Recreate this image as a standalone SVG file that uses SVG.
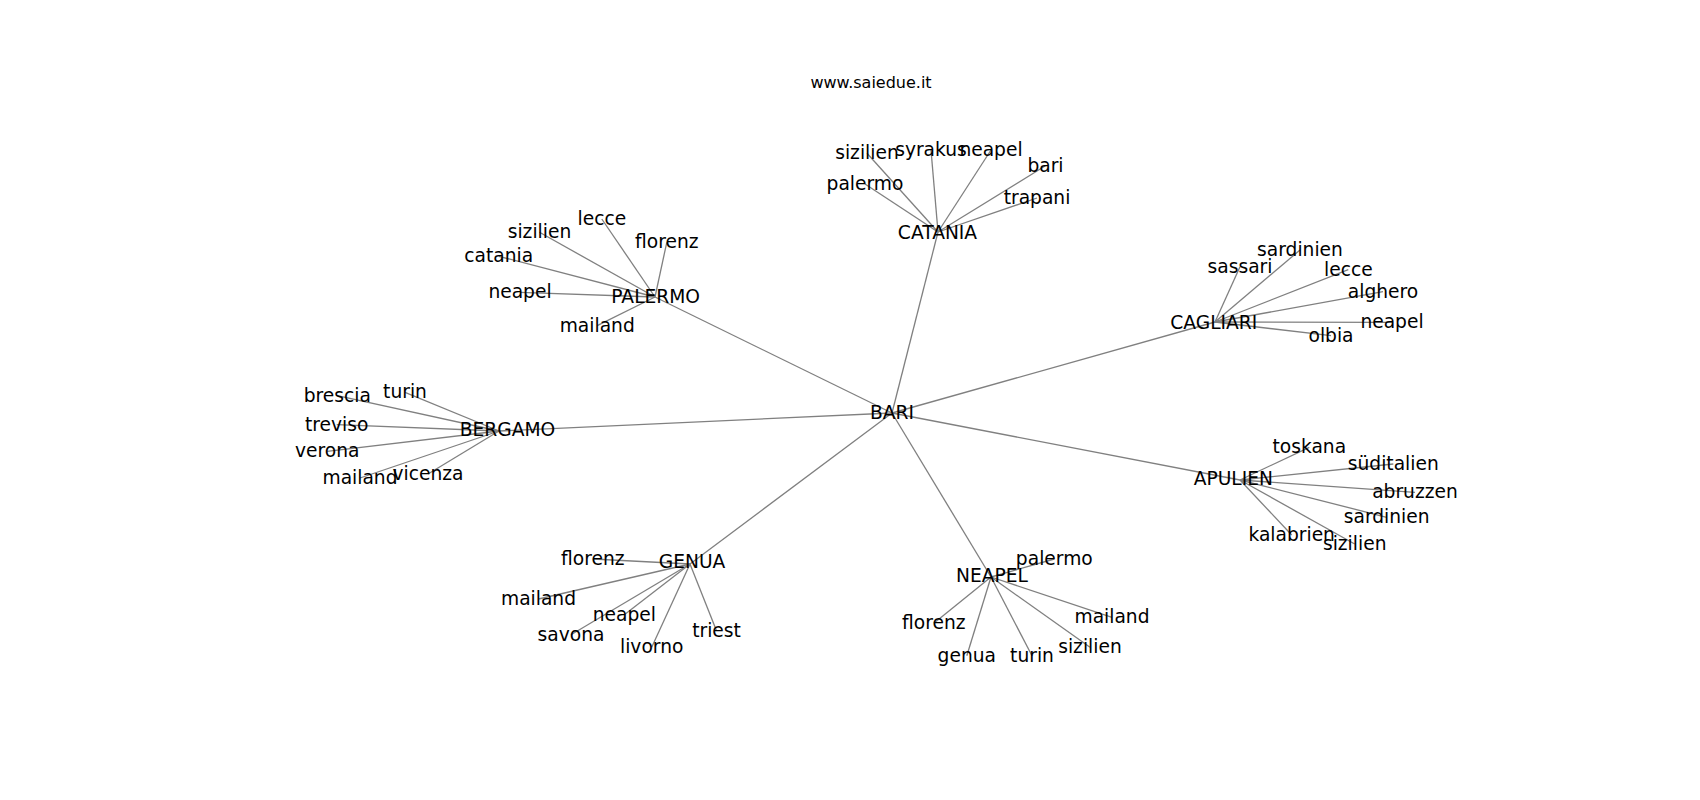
<svg xmlns="http://www.w3.org/2000/svg" width="1700" height="800" viewBox="0 0 1700 800">
<style>
  text { font-family: "DejaVu Sans", "Liberation Sans", sans-serif; fill: #000; text-anchor: middle; }
  .lbl { font-size: 18.67px; }
  .title { font-size: 16px; }
  #edges line { stroke: #808080; stroke-width: 1.3; fill: none; }
</style>
<rect x="0" y="0" width="1700" height="800" fill="#ffffff"/>
<text class="title" x="871" y="88">www.saiedue.it</text>
<g id="edges">
  <line x1="892" y1="413" x2="938" y2="232"/>
  <line x1="892" y1="413" x2="655" y2="297"/>
  <line x1="892" y1="413" x2="499" y2="431"/>
  <line x1="892" y1="413" x2="690" y2="564"/>
  <line x1="892" y1="413" x2="991" y2="577"/>
  <line x1="892" y1="413" x2="1240" y2="480"/>
  <line x1="892" y1="413" x2="1215" y2="322"/>
  <!-- CATANIA -->
  <line x1="938" y1="232" x2="867" y2="153.3"/>
  <line x1="938" y1="232" x2="931" y2="150"/>
  <line x1="938" y1="232" x2="991" y2="150"/>
  <line x1="938" y1="232" x2="1045.5" y2="165.7"/>
  <line x1="938" y1="232" x2="865" y2="184"/>
  <line x1="938" y1="232" x2="1037" y2="198"/>
  <!-- PALERMO -->
  <line x1="655" y1="297" x2="601.8" y2="219"/>
  <line x1="655" y1="297" x2="539.5" y2="232.3"/>
  <line x1="655" y1="297" x2="666.8" y2="242.3"/>
  <line x1="655" y1="297" x2="498.8" y2="256.3"/>
  <line x1="655" y1="297" x2="520" y2="292.3"/>
  <line x1="655" y1="297" x2="597.2" y2="325.7"/>
  <!-- BERGAMO -->
  <line x1="499" y1="431" x2="337.3" y2="395.7"/>
  <line x1="499" y1="431" x2="405" y2="392.3"/>
  <line x1="499" y1="431" x2="336.7" y2="424.7"/>
  <line x1="499" y1="431" x2="327.2" y2="451.3"/>
  <line x1="499" y1="431" x2="360" y2="478"/>
  <line x1="499" y1="431" x2="428" y2="474"/>
  <!-- CAGLIARI -->
  <line x1="1215" y1="322" x2="1240" y2="266.7"/>
  <line x1="1215" y1="322" x2="1300" y2="250"/>
  <line x1="1215" y1="322" x2="1348.3" y2="269.7"/>
  <line x1="1215" y1="322" x2="1383" y2="291.7"/>
  <line x1="1215" y1="322" x2="1392" y2="322.3"/>
  <line x1="1215" y1="322" x2="1331" y2="335.7"/>
  <!-- APULIEN -->
  <line x1="1240" y1="480" x2="1309.3" y2="447.3"/>
  <line x1="1240" y1="480" x2="1393.3" y2="464"/>
  <line x1="1240" y1="480" x2="1415" y2="492.3"/>
  <line x1="1240" y1="480" x2="1386.7" y2="517.3"/>
  <line x1="1240" y1="480" x2="1291.7" y2="535"/>
  <line x1="1240" y1="480" x2="1354.7" y2="544"/>
  <!-- NEAPEL -->
  <line x1="991" y1="577" x2="1054.3" y2="559"/>
  <line x1="991" y1="577" x2="933.8" y2="623.3"/>
  <line x1="991" y1="577" x2="966.8" y2="655.7"/>
  <line x1="991" y1="577" x2="1032" y2="655.7"/>
  <line x1="991" y1="577" x2="1112" y2="617.3"/>
  <line x1="991" y1="577" x2="1090" y2="647.3"/>
  <!-- GENUA -->
  <line x1="690" y1="564" x2="592.8" y2="559"/>
  <line x1="690" y1="564" x2="538.5" y2="599"/>
  <line x1="690" y1="564" x2="624.3" y2="614.7"/>
  <line x1="690" y1="564" x2="571" y2="634.7"/>
  <line x1="690" y1="564" x2="651.7" y2="647.3"/>
  <line x1="690" y1="564" x2="716.5" y2="630.7"/>
</g>
<g id="BARI"><text class="lbl" x="892" y="419">BARI</text></g>
<g id="CATANIA"><text class="lbl" x="937.5" y="239.3">CATANIA</text></g>
<g id="PALERMO"><text class="lbl" x="655.7" y="303.3">PALERMO</text></g>
<g id="BERGAMO"><text class="lbl" x="507.5" y="435.7">BERGAMO</text></g>
<g id="CAGLIARI"><text class="lbl" x="1213.8" y="329.3">CAGLIARI</text></g>
<g id="APULIEN"><text class="lbl" x="1233.3" y="485">APULIEN</text></g>
<g id="NEAPEL"><text class="lbl" x="992" y="581.7">NEAPEL</text></g>
<g id="GENUA"><text class="lbl" x="692" y="568.3">GENUA</text></g>

<g id="catania-sizilien"><text class="lbl" x="867" y="159.3">sizilien</text></g>
<g id="catania-syrakus"><text class="lbl" x="931" y="156">syrakus</text></g>
<g id="catania-neapel"><text class="lbl" x="991" y="156">neapel</text></g>
<g id="catania-bari"><text class="lbl" x="1045.5" y="171.7">bari</text></g>
<g id="catania-palermo"><text class="lbl" x="865" y="190">palermo</text></g>
<g id="catania-trapani"><text class="lbl" x="1037" y="204">trapani</text></g>

<g id="palermo-lecce"><text class="lbl" x="601.8" y="225">lecce</text></g>
<g id="palermo-sizilien"><text class="lbl" x="539.5" y="238.3">sizilien</text></g>
<g id="palermo-florenz"><text class="lbl" x="666.8" y="248.3">florenz</text></g>
<g id="palermo-catania"><text class="lbl" x="498.8" y="262.3">catania</text></g>
<g id="palermo-neapel"><text class="lbl" x="520" y="298.3">neapel</text></g>
<g id="palermo-mailand"><text class="lbl" x="597.2" y="331.7">mailand</text></g>

<g id="bergamo-brescia"><text class="lbl" x="337.3" y="401.7">brescia</text></g>
<g id="bergamo-turin"><text class="lbl" x="405" y="398.3">turin</text></g>
<g id="bergamo-treviso"><text class="lbl" x="336.7" y="430.7">treviso</text></g>
<g id="bergamo-verona"><text class="lbl" x="327.2" y="457.3">verona</text></g>
<g id="bergamo-mailand"><text class="lbl" x="360" y="484">mailand</text></g>
<g id="bergamo-vicenza"><text class="lbl" x="428" y="480">vicenza</text></g>

<g id="cagliari-sassari"><text class="lbl" x="1240" y="272.7">sassari</text></g>
<g id="cagliari-sardinien"><text class="lbl" x="1300" y="256">sardinien</text></g>
<g id="cagliari-lecce"><text class="lbl" x="1348.3" y="275.7">lecce</text></g>
<g id="cagliari-alghero"><text class="lbl" x="1383" y="297.7">alghero</text></g>
<g id="cagliari-neapel"><text class="lbl" x="1392" y="328.3">neapel</text></g>
<g id="cagliari-olbia"><text class="lbl" x="1331" y="341.7">olbia</text></g>

<g id="apulien-toskana"><text class="lbl" x="1309.3" y="453.3">toskana</text></g>
<g id="apulien-sueditalien"><text class="lbl" x="1393.3" y="470">süditalien</text></g>
<g id="apulien-abruzzen"><text class="lbl" x="1415" y="498.3">abruzzen</text></g>
<g id="apulien-sardinien"><text class="lbl" x="1386.7" y="523.3">sardinien</text></g>
<g id="apulien-kalabrien"><text class="lbl" x="1291.7" y="541">kalabrien</text></g>
<g id="apulien-sizilien"><text class="lbl" x="1354.7" y="550">sizilien</text></g>

<g id="neapel-palermo"><text class="lbl" x="1054.3" y="565">palermo</text></g>
<g id="neapel-florenz"><text class="lbl" x="933.8" y="629.3">florenz</text></g>
<g id="neapel-genua"><text class="lbl" x="966.8" y="661.7">genua</text></g>
<g id="neapel-turin"><text class="lbl" x="1032" y="661.7">turin</text></g>
<g id="neapel-mailand"><text class="lbl" x="1112" y="623.3">mailand</text></g>
<g id="neapel-sizilien"><text class="lbl" x="1090" y="653.3">sizilien</text></g>

<g id="genua-florenz"><text class="lbl" x="592.8" y="565">florenz</text></g>
<g id="genua-mailand"><text class="lbl" x="538.5" y="605">mailand</text></g>
<g id="genua-neapel"><text class="lbl" x="624.3" y="620.7">neapel</text></g>
<g id="genua-savona"><text class="lbl" x="571" y="640.7">savona</text></g>
<g id="genua-livorno"><text class="lbl" x="651.7" y="653.3">livorno</text></g>
<g id="genua-triest"><text class="lbl" x="716.5" y="636.7">triest</text></g>
</svg>
